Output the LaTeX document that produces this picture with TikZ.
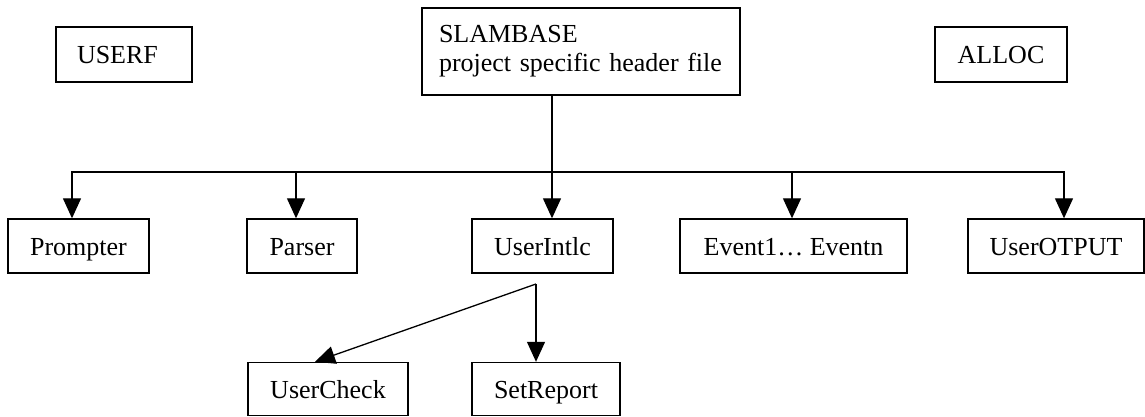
\documentclass[tikz,border=0pt]{standalone}
\usepackage{fontspec}
\setmainfont{Liberation Serif}
\usetikzlibrary{arrows.meta}
\begin{document}
\begin{tikzpicture}[x=1pt,y=-1pt,
  box/.style={draw, line width=1.4pt, rectangle, inner sep=0pt, minimum height=54pt,
    text height=23pt, text depth=4pt,
    font=\fontsize{26}{29}\selectfont},
  link/.style={line width=1.3pt},
  arr/.style={line width=1.3pt, -{Triangle[length=20pt,width=18pt]}}]
\useasboundingbox[fill=white] (0,0) rectangle (1145,417);
% top row
\node[box, minimum width=136pt, minimum height=55pt, text width=94pt, inner xsep=21pt, align=left] (userf) at (124,54.5) {USERF};
\node[box, minimum width=318pt, minimum height=87pt, text height=, text depth=, text width=284pt, inner xsep=17pt, align=left] (slam) at (581,51.5) {SLAMBASE\\project specific header file};
\node[box, minimum width=132pt, minimum height=55pt] (alloc) at (1001,54.5) {ALLOC};
% middle row
\node[box, minimum width=141pt] (prompter) at (78.5,246) {Prompter};
\node[box, minimum width=110pt] (parser) at (302,246) {Parser};
\node[box, minimum width=141pt] (usi) at (542.5,246) {UserIntlc};
\node[box, minimum width=227pt] (event) at (793.5,246) {Event1… Eventn};
\node[box, minimum width=176pt] (uout) at (1056,246) {UserOTPUT};
% bottom row
\node[box, minimum width=160pt, minimum height=53pt] (ucheck) at (328,389) {UserCheck};
\node[box, minimum width=148pt, minimum height=53pt] (srep) at (546,389) {SetReport};
% connectors
\coordinate (hub) at (552,172);
\coordinate (fork) at (536,284);
\draw[link] (slam.south -| hub) -- (hub);
\draw[arr] (hub) -| ([xshift=-6.5pt]prompter.north);
\draw[arr] (hub) -| ([xshift=-6pt]parser.north);
\draw[arr] (hub) -| ([xshift=9.5pt]usi.north);
\draw[arr] (hub) -| ([xshift=-1.5pt]event.north);
\draw[arr] (hub) -| ([xshift=8pt]uout.north);
\draw[arr] (fork) -- ([xshift=-13pt]ucheck.north);
\draw[arr] (fork) -- (srep.north -| fork);
\end{tikzpicture}
\end{document}
